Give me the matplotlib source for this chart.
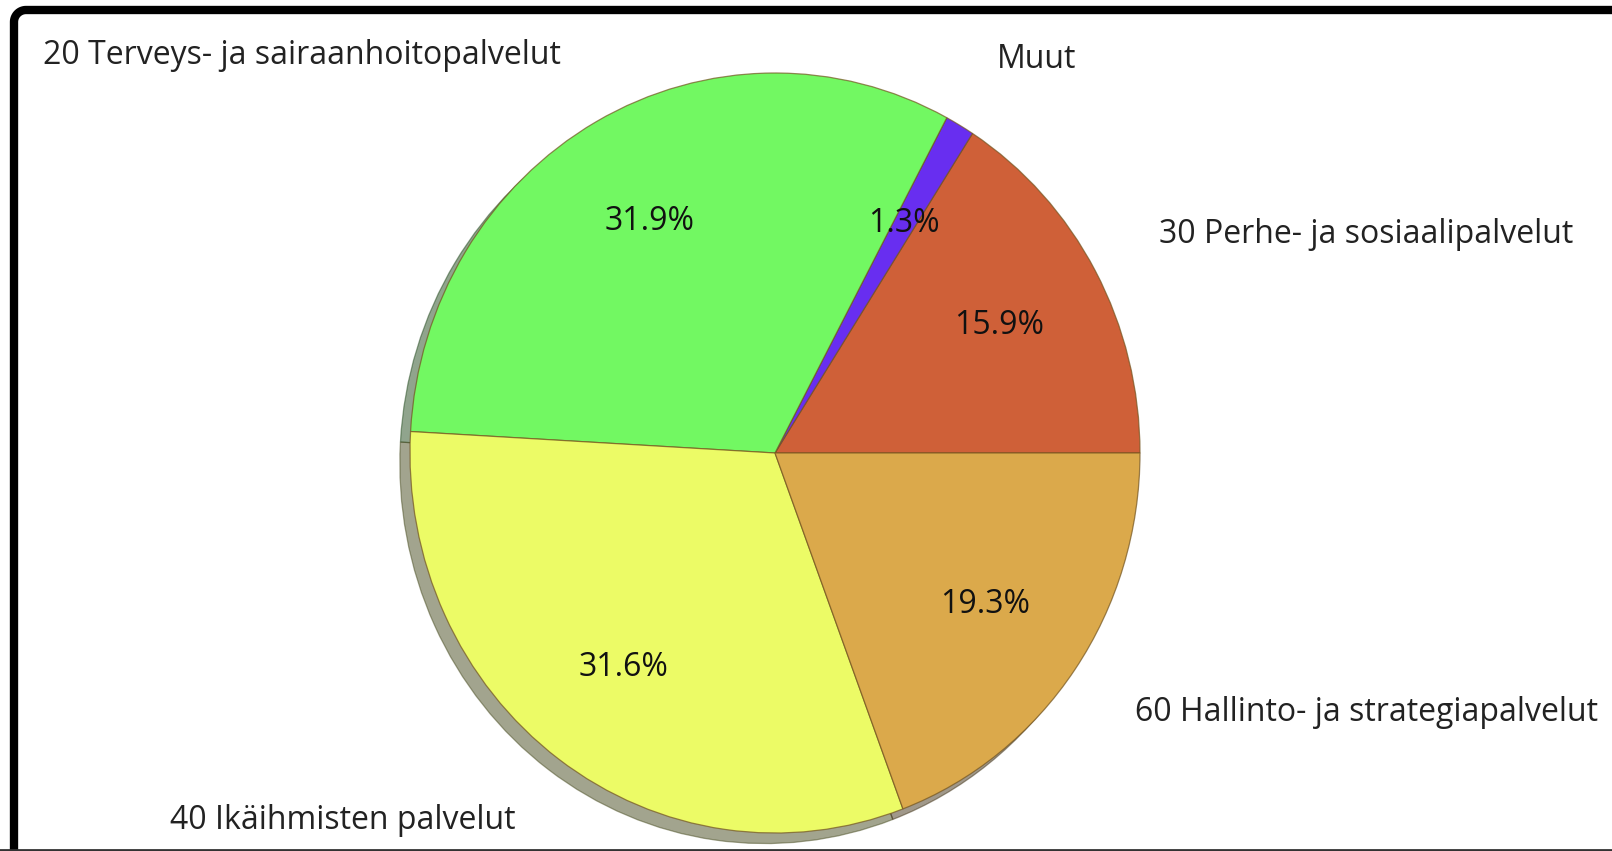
import matplotlib
matplotlib.use("Agg")
import numpy as np
import matplotlib.pyplot as plt
from matplotlib.lines import Line2D

labels = ["30 Perhe- ja sosiaalipalvelut", "Muut", "20 Terveys- ja sairaanhoitopalvelut",
          "40 Ikäihmisten palvelut", "60 Hallinto- ja strategiapalvelut"]
values = [15.9, 1.3, 31.9, 31.6, 19.3]
colors = ["#CF6038", "#682EF0", "#72F862", "#ECFB66", "#DBA94B"]

plt.rcParams['font.family'] = ['Open Sans', 'DejaVu Sans']

W, H = 1612, 851
fig = plt.figure(figsize=(W / 100, H / 100), dpi=100)

# axes placement: centre (775, 398 from bottom), 365 px/unit in x, 380 px/unit in y
cx, cy, rx, ry = 775, 398, 365, 380
a, b = 1.5, 1.0
ax = fig.add_axes([(cx - rx * a) / W, (cy - ry * b) / H, 2 * rx * a / W, 2 * ry * b / H])

wedges, texts, autotexts = ax.pie(
    values, labels=labels, colors=colors, autopct='%1.1f%%', startangle=0,
    shadow=True, labeldistance=1.2, pctdistance=0.7,
    wedgeprops=dict(edgecolor=(0.45, 0.33, 0.12, 0.7), linewidth=0.9),
    textprops=dict(fontsize=23, color="#222222"))
for t in autotexts:
    t.set_fontsize(23)
    t.set_color("#111111")
for t in texts:
    t.set_clip_on(False)
ax.set_aspect('auto')
ax.set_xlim(-a, a)
ax.set_ylim(-b, b)
ax.axis('off')

# frame: left and top edges with a rounded top-left corner (figure pixels)
r = 12
x0, y0 = 14, H - 10
th = np.linspace(np.pi, np.pi / 2, 20)
fx = np.concatenate([[x0], x0 + r + r * np.cos(th), [W + 30]])
fy = np.concatenate([[-30], y0 - r + r * np.sin(th), [y0]])
fig.add_artist(Line2D(fx / W, fy / H, transform=fig.transFigure, color="black",
                      linewidth=6, solid_joinstyle='round'))
fig.add_artist(Line2D([0, 1], [1.5 / H, 1.5 / H], transform=fig.transFigure,
                      color="#333333", linewidth=2))

fig.savefig("out.png", dpi=100)
